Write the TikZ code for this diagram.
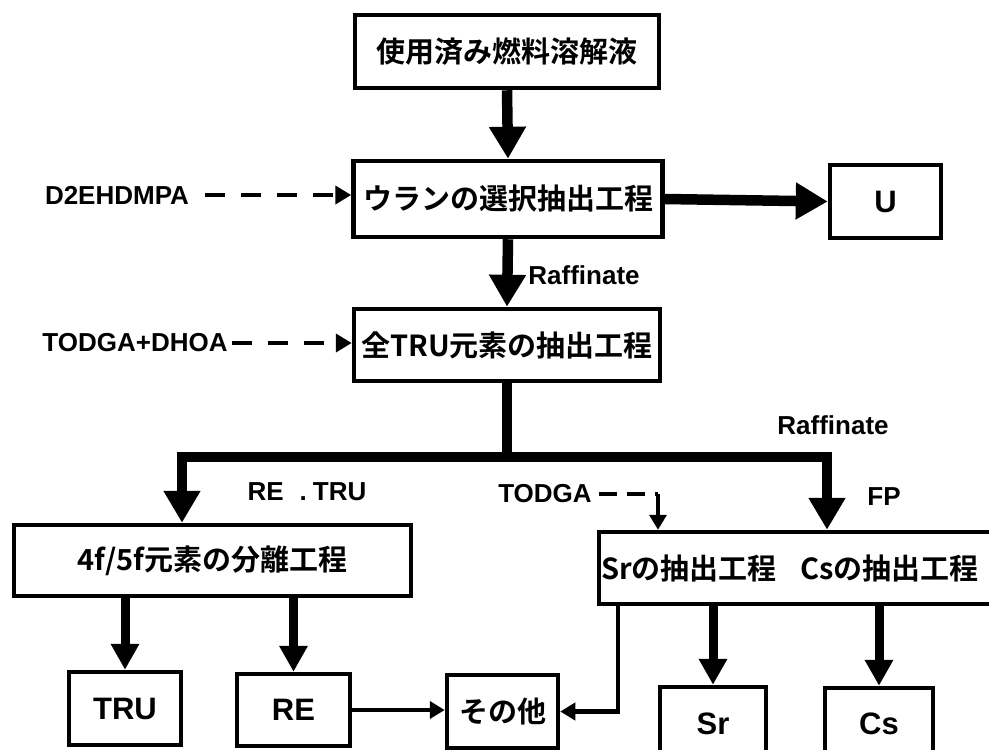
\documentclass[tikz,border=0pt]{standalone}
\usepackage{fontspec}
\setmainfont{Liberation Sans}
\newfontfamily\jp{Noto Sans CJK JP}[BoldFont={Noto Sans CJK JP Bold}]
\usetikzlibrary{arrows.meta}
\tikzset{
  box/.style={draw, line width=4.5pt, inner sep=0pt},
  jpt/.style={font=\jp\bfseries\fontsize{29}{34}\selectfont},
  ltt/.style={font=\bfseries\fontsize{31}{36}\selectfont},
  lbl/.style={font=\bfseries\fontsize{26}{31}\selectfont, inner sep=2pt},
  bigarrow/.style={line width=10.5pt, line join=miter, -{Triangle[length=32pt,width=35pt]}},
  midarrow/.style={line width=9pt, -{Triangle[length=26pt,width=27pt]}},
  thinarrow/.style={line width=4.5pt, line join=miter, -{Triangle[length=15pt,width=17pt]}},
  slimarrow/.style={line width=3.5pt, -{Triangle[length=15pt,width=17pt]}},
  dasharrow/.style={line width=4.5pt, dash pattern=on 20pt off 16pt, -{Triangle[length=16pt,width=18pt]}},
  dashline/.style={line width=4.5pt, dash pattern=on 18pt off 10pt},
}
\begin{document}
\begin{tikzpicture}[x=1pt,y=-1pt]
\useasboundingbox (0,0) rectangle (989,750);
% boxes
\node[box, minimum width=304pt, minimum height=73pt, jpt] (n1) at (507,51.5) {使用済み燃料溶解液};
\node[box, minimum width=309pt, minimum height=76pt, jpt] (n2) at (508,199) {ウランの選択抽出工程};
\node[box, minimum width=111pt, minimum height=73pt, ltt] (u) at (885.5,201.5) {U};
\node[box, minimum width=306pt, minimum height=72pt, jpt] (n3) at (507,345) {全TRU元素の抽出工程};
\node[box, minimum width=397pt, minimum height=71pt, jpt] (n4) at (212.5,560.5) {4f/5f元素の分離工程};
\node[box, minimum width=401pt, minimum height=72pt] (n5) at (799.5,568) {};
\node[jpt, anchor=west, inner sep=0pt] (n5t) at (601,568) {Srの抽出工程\hspace{0.8em}Csの抽出工程};
\node[box, minimum width=112pt, minimum height=73pt, ltt] (tru) at (125,708.5) {TRU};
\node[box, minimum width=113pt, minimum height=72pt, ltt] (re) at (293.5,710) {RE};
\node[box, minimum width=111pt, minimum height=73pt, jpt] (oth) at (502.5,711.5) {その他};
\node[box, minimum width=106pt, minimum height=73pt, ltt] (sr) at (713,723.5) {Sr};
\node[box, minimum width=108pt, minimum height=72pt, ltt] (cs) at (879,724) {Cs};
% labels
\node[lbl] (d2) at (117,195) {D2EHDMPA};
\node[lbl] (td) at (135,343) {TODGA+DHOA};
\node[lbl] (raf1) at (584,275) {Raffinate};
\node[lbl] (raf2) at (833,425) {Raffinate};
\node[lbl] (retru) at (307,492) {RE\hspace{16pt}.\hspace{6pt}TRU};
\node[lbl] (todga) at (545,494) {TODGA};
\node[lbl] (fp) at (884,497) {FP};
% connectors
\draw[bigarrow] (n1.south) -- (n2.north);
\draw[bigarrow] (n2.east) -- (u.west);
\draw[bigarrow] (n2.south) -- (n3.north);
\coordinate (jl) at (182,457);
\coordinate (jr) at (827,457);
\draw[bigarrow] (n3.south) |- (jl) -- (jl |- n4.north);
\draw[bigarrow] (n3.south) |- (jr) -- (jr |- n5.north);
\draw[dasharrow, shorten <=14pt] (d2.east) -- (d2.east -| n2.west);
\draw[dasharrow, shorten <=2pt] (td.east) -- (td.east -| n3.west);
\coordinate (tc) at (658,494);
\draw[dashline, shorten <=5pt] (todga.east) -- (tc);
\draw[slimarrow] (tc) -- (tc |- n5.north);
\draw[midarrow] (n4.south -| tru.north) -- (tru.north);
\draw[midarrow] (n4.south -| re.north) -- (re.north);
\draw[midarrow] (n5.south -| sr.north) -- (sr.north);
\draw[midarrow] (n5.south -| cs.north) -- (cs.north);
\draw[thinarrow] (re.east) -- (re.east -| oth.west);
\coordinate (s5) at (618,0);
\draw[thinarrow] (n5.south -| s5) |- (oth.east);
\end{tikzpicture}
\end{document}
